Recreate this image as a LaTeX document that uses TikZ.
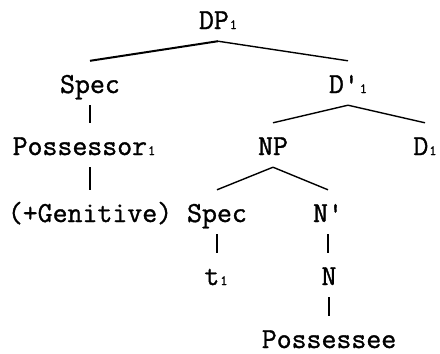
\documentclass[tikz,border=0pt]{standalone}
\usepackage{fontspec}
\newfontfamily\treefont{Latin Modern Mono}[FakeBold=1.2]
\newcommand\sub[1]{\kern1pt{\fontsize{14}{14}\selectfont #1}}
\begin{document}
\begin{tikzpicture}[x=1pt,y=-1pt,
  lbl/.style={anchor=base, font=\fontsize{29}{29}\treefont, text height=25pt, text depth=5pt, inner ysep=7pt, inner xsep=0pt},
  leaf/.style={lbl, text height=29pt, text depth=0pt, inner ysep=3pt},
  edge/.style={line width=1.4pt}]
\useasboundingbox (0,0) rectangle (440,354);
\node[lbl] (dp) at (218,29) {DP\sub{1}};
\node[lbl] (spec1) at (90,93) {Spec};
\node[lbl] (dbar) at (348,93) {D'\sub{1}};
\node[lbl] (poss) at (84,155) {Possessor\sub{1}};
\node[lbl] (np) at (273,155) {NP};
\node[lbl] (d) at (425,155) {D\sub{1}};
\node[lbl] (gen) at (90,222) {(+Genitive)};
\node[lbl] (spec2) at (217,222) {Spec};
\node[lbl] (nbar) at (328,222) {N'};
\node[lbl] (t) at (216,285) {t\sub{1}};
\node[lbl] (n) at (329,285) {N};
\node[leaf] (pee) at (329,348) {Possessee};
\draw[edge, line width=2pt] (dp.south) -- (spec1.north);
\draw[edge] (dp.south) -- (dbar.north);
\draw[edge] (spec1.south) -- (spec1.south |- poss.north);
\draw[edge] (dbar.south) -- (np.north);
\draw[edge] (dbar.south) -- (d.north);
\draw[edge] (spec1.south |- poss.south) -- (spec1.south |- gen.north);
\draw[edge] (np.south) -- (spec2.north);
\draw[edge] (np.south) -- (nbar.north);
\draw[edge] (spec2.south) -- (spec2.south |- t.north);
\draw[edge] (nbar.south) -- (nbar.south |- n.north);
\draw[edge] (n.south) -- (n.south |- pee.north);
\end{tikzpicture}
\end{document}
